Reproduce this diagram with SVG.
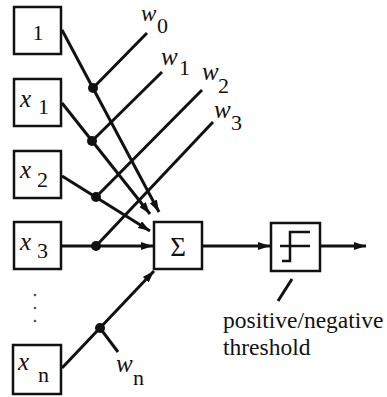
<svg xmlns="http://www.w3.org/2000/svg" width="387" height="397" viewBox="0 0 387 397">
<style>
.box{fill:#fff;stroke:#111;stroke-width:2.5}
.ln{fill:none;stroke:#111;stroke-width:3}
.dot{fill:#111}
text{font-family:'Liberation Serif','Times New Roman','DejaVu Serif',serif;fill:#111}
.t{font-size:22px}
.i{font-style:italic;font-size:25px}
.lab{font-size:23.5px}
</style>
<defs>
<marker id="ah" viewBox="0 0 12 8" refX="12" refY="4" markerWidth="12" markerHeight="8" markerUnits="userSpaceOnUse" orient="auto">
<path d="M0,0 L12,4 L0,8 Z" fill="#111"/>
</marker>
</defs>
<rect width="387" height="397" fill="#fff"/>
<g id="connectors">
<line class="ln" x1="62" y1="30" x2="159" y2="212" marker-end="url(#ah)"/>
<line class="ln" x1="62" y1="103" x2="150" y2="214" marker-end="url(#ah)"/>
<line class="ln" x1="62" y1="176" x2="150" y2="231" marker-end="url(#ah)"/>
<line class="ln" x1="61" y1="246" x2="153" y2="246" marker-end="url(#ah)"/>
<line class="ln" x1="62" y1="368" x2="154" y2="271" marker-end="url(#ah)"/>
<line class="ln" x1="93" y1="88" x2="147" y2="33"/>
<line class="ln" x1="92" y1="141" x2="162" y2="72"/>
<line class="ln" x1="96" y1="197" x2="202" y2="90"/>
<line class="ln" x1="96" y1="246" x2="213" y2="122"/>
<line class="ln" x1="100" y1="328" x2="118" y2="352"/>
<line class="ln" x1="202" y1="246" x2="270" y2="246" marker-end="url(#ah)"/>
<line class="ln" x1="320" y1="246" x2="366" y2="246" marker-end="url(#ah)"/>
<line class="ln" x1="292" y1="279" x2="278" y2="301"/>
<circle class="dot" cx="93" cy="88" r="5"/>
<circle class="dot" cx="92" cy="141" r="5"/>
<circle class="dot" cx="96" cy="197" r="5"/>
<circle class="dot" cx="96" cy="246" r="5"/>
<circle class="dot" cx="100" cy="328" r="5"/>
</g>
<g id="in0"><rect class="box" x="14" y="7" width="47" height="47"/><text class="t" x="38" y="40" text-anchor="middle">1</text></g>
<g id="in1"><rect class="box" x="14" y="79" width="47" height="47"/><text class="t"><tspan class="i" x="20" y="107">x</tspan><tspan x="38" y="114">1</tspan></text></g>
<g id="in2"><rect class="box" x="14" y="151" width="47" height="47"/><text class="t"><tspan class="i" x="20" y="178">x</tspan><tspan x="37" y="187">2</tspan></text></g>
<g id="in3"><rect class="box" x="14" y="222" width="47" height="47"/><text class="t"><tspan class="i" x="20" y="250">x</tspan><tspan x="37" y="258">3</tspan></text></g>
<g id="ellipsis"><circle cx="35" cy="295" r="1.3" fill="#555"/><circle cx="35" cy="308" r="1.3" fill="#555"/><circle cx="35" cy="321" r="1.3" fill="#555"/></g>
<g id="inn"><rect class="box" x="13" y="345" width="48" height="49"/><text class="t"><tspan class="i" x="18" y="370">x</tspan><tspan x="38" y="382">n</tspan></text></g>
<g id="weights">
<text class="t"><tspan class="i" x="141" y="21" style="font-size:23px">w</tspan><tspan x="157" y="33">0</tspan></text>
<text class="t"><tspan class="i" x="161" y="65">w</tspan><tspan x="179" y="75">1</tspan></text>
<text class="t"><tspan class="i" x="202" y="80">w</tspan><tspan x="218" y="93">2</tspan></text>
<text class="t"><tspan class="i" x="214" y="118">w</tspan><tspan x="231" y="130">3</tspan></text>
<text class="t"><tspan class="i" x="116" y="372">w</tspan><tspan x="133" y="385">n</tspan></text>
</g>
<g id="sum"><rect class="box" x="154" y="222" width="48" height="47"/><text class="t" x="178" y="256" text-anchor="middle" style="font-size:27px">Σ</text></g>
<g id="threshold"><rect class="box" x="271" y="223" width="49" height="48"/><path class="ln" style="stroke-width:2.5" d="M280,246 H310 M282,261 H290 V232 H310"/></g>
<g id="label"><text class="lab" x="223" y="328">positive/negative</text><text class="lab" x="223" y="355">threshold</text></g>
</svg>
